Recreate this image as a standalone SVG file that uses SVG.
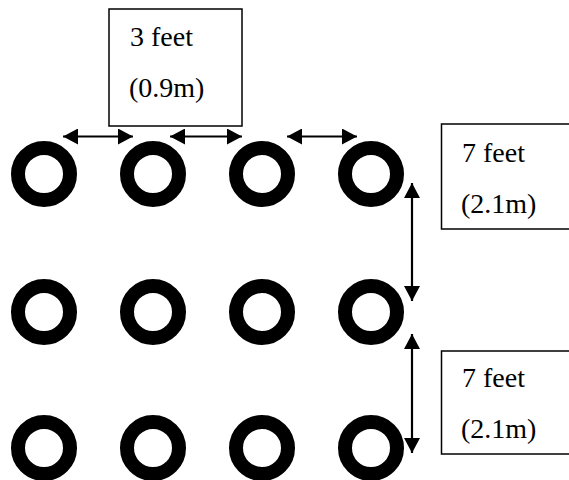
<svg xmlns="http://www.w3.org/2000/svg" width="569" height="480" viewBox="0 0 569 480">
<style>
.ring{fill:none;stroke:#000;stroke-width:14}
.box{fill:#fff;stroke:#000;stroke-width:1.5}
.lbl{font-family:"Liberation Serif","Times New Roman",serif;font-size:28px;fill:#000}
.conn{stroke:#000;stroke-width:2.2;fill:none}
</style>
<defs>
<marker id="ah" viewBox="0 0 15 16" refX="15" refY="8" markerWidth="15" markerHeight="16" markerUnits="userSpaceOnUse" orient="auto-start-reverse">
<path d="M0,0 L15,8 L0,16 Z" fill="#000"/>
</marker>
</defs>
<rect width="569" height="480" fill="#fff"/>
<g id="posts">
<g id="post-1-1"><circle class="ring" cx="44" cy="174" r="26"/></g>
<g id="post-1-2"><circle class="ring" cx="153" cy="174" r="26"/></g>
<g id="post-1-3"><circle class="ring" cx="262" cy="174" r="26"/></g>
<g id="post-1-4"><circle class="ring" cx="371" cy="174" r="26"/></g>
<g id="post-2-1"><circle class="ring" cx="44" cy="312" r="26"/></g>
<g id="post-2-2"><circle class="ring" cx="153" cy="312" r="26"/></g>
<g id="post-2-3"><circle class="ring" cx="262" cy="312" r="26"/></g>
<g id="post-2-4"><circle class="ring" cx="371" cy="312" r="26"/></g>
<g id="post-3-1"><circle class="ring" cx="44" cy="448" r="26"/></g>
<g id="post-3-2"><circle class="ring" cx="153" cy="448" r="26"/></g>
<g id="post-3-3"><circle class="ring" cx="262" cy="448" r="26"/></g>
<g id="post-3-4"><circle class="ring" cx="371" cy="448" r="26"/></g>
</g>
<g id="label-3ft">
<rect class="box" x="109" y="9" width="133" height="117"/>
<text class="lbl" x="130" y="46">3 feet</text>
<text class="lbl" x="129" y="97">(0.9m)</text>
</g>
<g id="label-7ft-a">
<rect class="box" x="441.5" y="124" width="140" height="105"/>
<text class="lbl" x="462" y="162">7 feet</text>
<text class="lbl" x="461" y="213">(2.1m)</text>
</g>
<g id="label-7ft-b">
<rect class="box" x="441.5" y="351" width="140" height="103"/>
<text class="lbl" x="462" y="387">7 feet</text>
<text class="lbl" x="461" y="438">(2.1m)</text>
</g>
<g id="connectors">
<line class="conn" x1="63" y1="136.5" x2="133" y2="136.5" marker-start="url(#ah)" marker-end="url(#ah)"/>
<line class="conn" x1="170" y1="136.5" x2="242" y2="136.5" marker-start="url(#ah)" marker-end="url(#ah)"/>
<line class="conn" x1="287" y1="136.5" x2="357" y2="136.5" marker-start="url(#ah)" marker-end="url(#ah)"/>
<line class="conn" x1="412" y1="183" x2="412" y2="301" marker-start="url(#ah)" marker-end="url(#ah)"/>
<line class="conn" x1="412" y1="334" x2="412" y2="453" marker-start="url(#ah)" marker-end="url(#ah)"/>
</g>
</svg>
